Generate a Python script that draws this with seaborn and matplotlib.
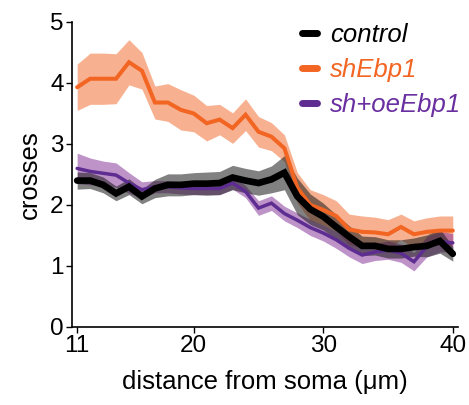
import numpy as np
import pandas as pd
import matplotlib
matplotlib.use("Agg")
import matplotlib.pyplot as plt
import seaborn as sns
from matplotlib.lines import Line2D

distance = list(range(11, 41))

control_mean = [2.40, 2.40, 2.33, 2.19, 2.30, 2.14, 2.27, 2.33, 2.33, 2.35,
                2.35, 2.36, 2.45, 2.40, 2.36, 2.42, 2.53, 2.14, 1.93, 1.81,
                1.64, 1.48, 1.33, 1.33, 1.28, 1.28, 1.31, 1.33, 1.41, 1.20]
control_err = [0.14, 0.13, 0.13, 0.12, 0.13, 0.12, 0.15, 0.18, 0.18, 0.18,
               0.19, 0.19, 0.20, 0.20, 0.20, 0.22, 0.28, 0.30, 0.25, 0.22,
               0.20, 0.18, 0.16, 0.15, 0.15, 0.15, 0.15, 0.18, 0.20, 0.12]

sh_mean = [3.93, 4.07, 4.07, 4.07, 4.34, 4.20, 3.68, 3.68, 3.56, 3.50,
           3.34, 3.40, 3.26, 3.48, 3.20, 3.12, 2.93, 2.28, 2.00, 1.92,
           1.82, 1.60, 1.56, 1.55, 1.52, 1.64, 1.52, 1.56, 1.58, 1.58]
sh_err = [0.38, 0.42, 0.42, 0.41, 0.37, 0.30, 0.27, 0.31, 0.33, 0.30,
          0.29, 0.25, 0.25, 0.26, 0.25, 0.23, 0.22, 0.25, 0.25, 0.25,
          0.25, 0.25, 0.26, 0.25, 0.24, 0.21, 0.22, 0.23, 0.24, 0.24]

oe_mean = [2.60, 2.55, 2.52, 2.49, 2.36, 2.25, 2.30, 2.30, 2.28, 2.27,
           2.27, 2.27, 2.36, 2.22, 1.95, 2.03, 1.86, 1.75, 1.63, 1.54,
           1.43, 1.29, 1.18, 1.23, 1.26, 1.21, 1.07, 1.32, 1.40, 1.38]
oe_err = [0.25, 0.22, 0.20, 0.20, 0.17, 0.13, 0.10, 0.10, 0.10, 0.10,
          0.10, 0.10, 0.10, 0.10, 0.12, 0.12, 0.12, 0.12, 0.13, 0.13,
          0.14, 0.14, 0.14, 0.14, 0.15, 0.15, 0.15, 0.17, 0.17, 0.15]

groups = ["control", "shEbp1", "sh+oeEbp1"]
line_colors = {"control": "#000000", "shEbp1": "#F26522", "sh+oeEbp1": "#5E2D91"}
text_colors = {"control": "#000000", "shEbp1": "#F26522", "sh+oeEbp1": "#6A2FA0"}
band_colors = {"control": "#1a1a1a", "shEbp1": "#F26522", "sh+oeEbp1": "#8A3A9C"}
band_alpha = {"control": 0.55, "shEbp1": 0.5, "sh+oeEbp1": 0.55}
line_widths = {"control": 4.8, "shEbp1": 2.9, "sh+oeEbp1": 2.5}

means = {"control": control_mean, "shEbp1": sh_mean, "sh+oeEbp1": oe_mean}
errs = {"control": control_err, "shEbp1": sh_err, "sh+oeEbp1": oe_err}

sns.set_style("ticks")
plt.rcParams["font.family"] = ["Liberation Sans", "DejaVu Sans"]
plt.rcParams["text.color"] = "black"
plt.rcParams["axes.labelcolor"] = "black"
plt.rcParams["xtick.color"] = "black"
plt.rcParams["ytick.color"] = "black"
plt.rcParams["axes.edgecolor"] = "black"

fig = plt.figure(figsize=(4.69, 4.05), dpi=100)
ax = fig.add_axes([0.1535, 0.1926, 0.8230, 0.7531])

x = np.array(distance)
for g in ["shEbp1", "sh+oeEbp1", "control"]:
    m = np.array(means[g]); e = np.array(errs[g])
    ax.fill_between(x, m - e, m + e, color=band_colors[g], alpha=band_alpha[g],
                    linewidth=0, zorder=1)

for g in ["shEbp1", "sh+oeEbp1", "control"]:
    df = pd.DataFrame({"distance": distance, "crosses": means[g]})
    sns.lineplot(data=df, x="distance", y="crosses", ax=ax, color=line_colors[g],
                 linewidth=line_widths[g], zorder=3, solid_joinstyle="miter")

ax.set_xlim(10.6, 40.4)
ax.set_ylim(0, 5)
ax.set_xticks([11, 20, 30, 40])
ax.set_yticks([0, 1, 2, 3, 4, 5])
ax.tick_params(labelsize=17.5, length=4, width=1, pad=2, colors="black")
ax.set_xlabel("distance from soma (μm)", fontsize=18.5, labelpad=9)
ax.set_ylabel("crosses", fontsize=18.5, labelpad=6)
for s in ["top", "right"]:
    ax.spines[s].set_visible(False)
for s in ["left", "bottom"]:
    ax.spines[s].set_linewidth(1.2)

handles = [Line2D([0], [0], color=line_colors[g], linewidth=5) for g in groups]
leg = ax.legend(handles, groups, loc="upper right", bbox_to_anchor=(1.035, 1.03),
                frameon=False, fontsize=18.5, handlelength=0.6, handletextpad=0.5,
                labelspacing=0.42, borderaxespad=0)
for t, g in zip(leg.get_texts(), groups):
    t.set_color(text_colors[g])
    t.set_style("italic")

fig.savefig("out.png", dpi=100)
